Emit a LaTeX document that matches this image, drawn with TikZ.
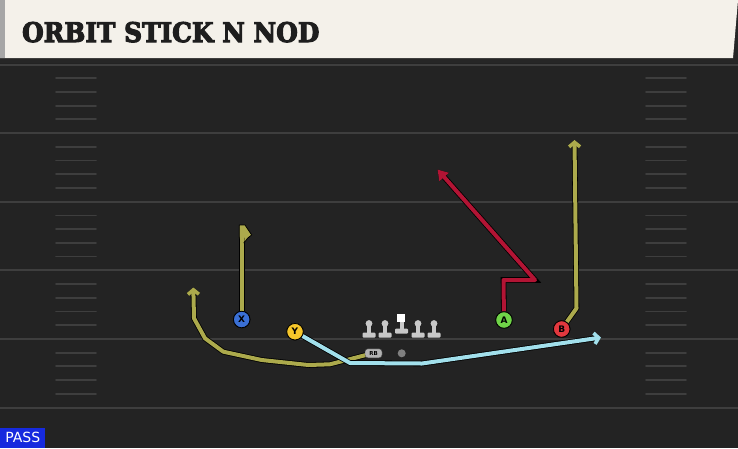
\documentclass[tikz,border=0pt]{standalone}
\usepackage{fontspec}
\setmainfont{DejaVu Sans}
\newfontfamily\titlefont{DejaVu Serif}
\usetikzlibrary{arrows.meta}

\definecolor{turf}{RGB}{35,35,35}
\definecolor{yardgray}{RGB}{62,62,62}
\definecolor{cream}{RGB}{244,241,234}
\definecolor{titleink}{RGB}{30,30,30}
\definecolor{olive}{RGB}{172,170,76}
\definecolor{iceblue}{RGB}{162,224,236}
\definecolor{crimson}{RGB}{178,20,52}
\definecolor{xblue}{RGB}{58,112,214}
\definecolor{ygold}{RGB}{246,198,42}
\definecolor{agreen}{RGB}{112,212,72}
\definecolor{bred}{RGB}{226,56,62}
\definecolor{linegray}{RGB}{200,200,200}
\definecolor{passblue}{RGB}{22,42,222}

\newcommand\heavytext[1]{\special{pdf:literal 2 Tr 1.1 w}#1\special{pdf:literal 0 Tr 0.4 w}}

\begin{document}
\begin{tikzpicture}[x=1pt, y=-1pt, inner sep=1pt]
	\tikzstyle{player}=[circle, draw=black, line width=0.8pt, minimum size=16.5pt, inner sep=0pt, font=\bfseries\small]
	\tikzstyle{route}=[line width=4pt, line join=round, preaction={draw=black, line width=5.6pt}]
	\tikzstyle{barb}=[-{Straight Barb[length=4.5pt, width=11pt, line width=3.6pt]}]
	\tikzstyle{yardline}=[yardgray, line width=2pt]
	\tikzstyle{hash}=[yardgray, line width=1.8pt, line cap=round]

		\useasboundingbox (0,0) rectangle (738,448);
		\fill[turf] (0,0) rectangle (738,448);

		% header
		\fill[black!85] (0,0) rectangle (738,63);
		\fill[cream] (0,0) -- (738,0) -- (733,58) -- (0,58) -- cycle;
		\fill[black!35] (0,0) rectangle (5,58);
		\node[anchor=base west, text=titleink, font=\titlefont\bfseries\fontsize{27}{27}\selectfont, xscale=0.92] (title) at (21,42) {\heavytext{ORBIT STICK N NOD}};

		% field
		\foreach \y in {64.5,133.1,201.7,270.3,338.9,407.5}
			\draw[yardline] (0,\y) -- (738,\y);
		\foreach \y in {64.5,133.1,201.7,270.3,338.9}
			\foreach \j in {1,2,3,4} {
				\draw[hash] (56,\y+13.7*\j) -- (96,\y+13.7*\j);
				\draw[hash] (646,\y+13.7*\j) -- (686,\y+13.7*\j);
			}

		% line
		\foreach \x in {369,385,418,434} {
			\fill[linegray, rounded corners=1pt] (\x-6.5,332.5) rectangle (\x+6.5,337.5);
			\fill[linegray] (\x-2.2,323) rectangle (\x+2.2,333);
			\fill[linegray] (\x,323.5) circle (3.4);
		}
		\fill[linegray, rounded corners=1pt] (395,328.5) rectangle (408,333.5);
		\fill[linegray] (399.5,321) rectangle (403.5,329);
		\fill[white] (397.3,314) rectangle (405.3,321.7);

		\node[player, fill=xblue] (x) at (241.7,319.5) {X};
		\node[player, fill=ygold] (y) at (295,331.7) {Y};
		\node[player, fill=agreen] (a) at (504,320) {A};
		\node[player, fill=bred] (b) at (561.7,329) {B};

		\coordinate (xtop) at (241.7,236);
		\coordinate (orbitstart) at (366,355);
		\coordinate (orbitend) at (193.3,287.5);
		\coordinate (yend) at (601,337.5);
		\coordinate (aend) at (437.5,169.5);
		\coordinate (bend) at (574.5,140);

		% routes
		\draw[route, olive] (x) -- (xtop);
		\filldraw[olive, draw=black, line width=0.8pt, line join=round] (239.3,225) -- (245,225) -- (251.7,235) -- (247.8,238) -- (244,243) -- (244,238) -- (239.3,238) -- cycle;
		\fill[olive] (239.7,236) rectangle (243.7,242);
		\draw[route, olive, barb] (orbitstart) -- (330,364.3) -- (308.3,365) -- (261.7,360) -- (223.3,351.7) -- (205,338.3) -- (194,318.3) -- (orbitend);
		\draw[route, iceblue, barb] (y) -- (350,363) -- (422,363.5) -- (yend);
		\draw[route, crimson, -{Triangle[length=10pt, width=12pt]}] (a) -- (503.5,280) -- (535,280) -- (aend);
		\draw[route, olive, barb] (b) -- (576.5,308.3) -- (bend);
		\node[player, fill=xblue] at (x) {X};
		\node[player, fill=ygold] at (y) {Y};
		\node[player, fill=agreen] at (a) {A};
		\node[player, fill=bred] at (b) {B};

		\node[fill=black!30, draw=black!70, rounded corners=3pt, minimum width=17pt, minimum height=9pt, inner sep=0pt, font=\bfseries\fontsize{5.5}{5.5}\selectfont] (rb) at (373.5,353.3) {RB};
		\node[circle, fill=black!50, minimum size=8pt, inner sep=0pt] (qb) at (401.7,353.3) {};

		\node[anchor=south west, fill=passblue, text=white, minimum width=45pt, minimum height=20pt, inner sep=0pt, font=\fontsize{14}{14}\selectfont] (pass) at (0,448) {PASS};
	\end{tikzpicture}
\end{document}
